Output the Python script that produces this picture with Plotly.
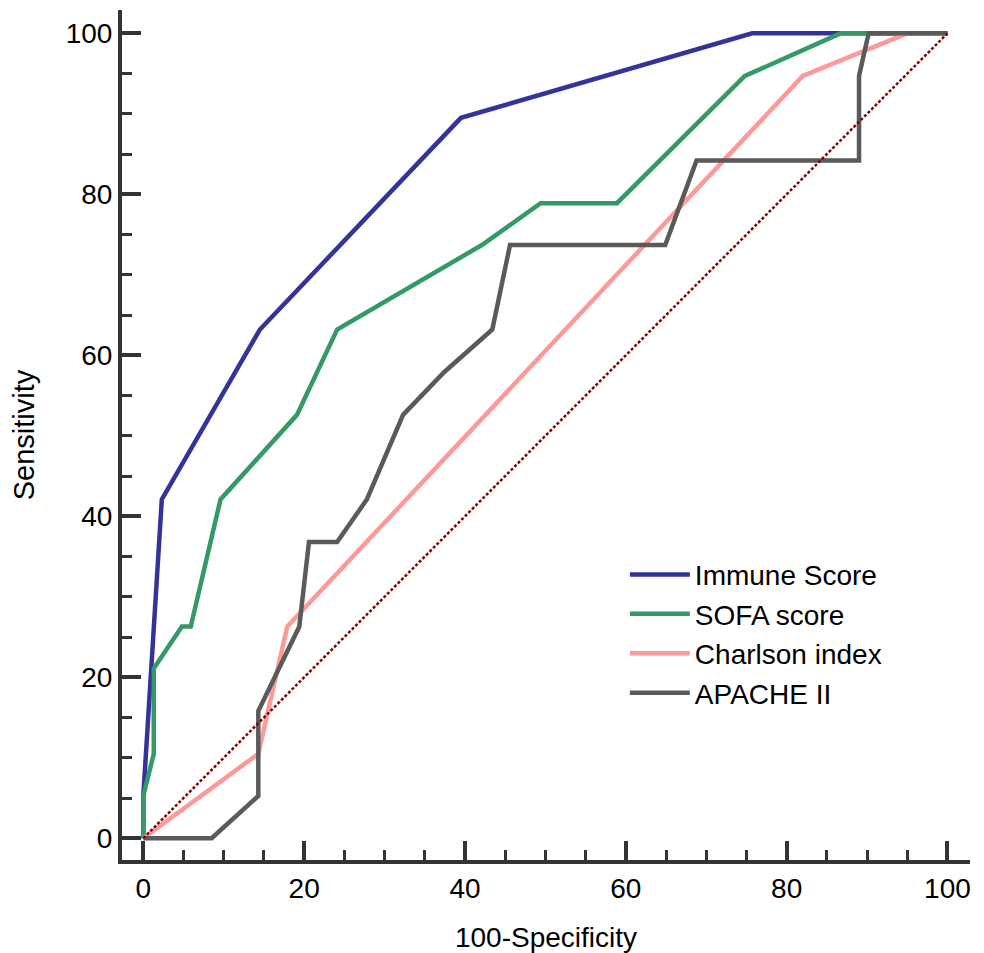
import plotly.graph_objects as go

# ROC curve data (100-Specificity, Sensitivity)
immune_x = [0, 0, 2.3, 14.5, 39.5, 75.7, 100]
immune_y = [0, 5.26, 42.1, 63.2, 89.5, 100, 100]

sofa_x = [0, 0, 1.3, 1.3, 4.8, 5.9, 9.6, 19.1, 24.1, 42.1, 49.4, 58.9, 74.8, 86.7, 100]
sofa_y = [0, 5.26, 10.5, 21.1, 26.3, 26.3, 42.1, 52.6, 63.2, 73.7, 78.9, 78.9, 94.7, 100, 100]

charlson_x = [0, 14.3, 17.9, 82.0, 95.0, 100]
charlson_y = [0, 10.5, 26.3, 94.7, 100, 100]

apache_x = [0, 8.5, 14.3, 14.3, 19.4, 20.6, 24.1, 27.8, 32.3, 37.4, 43.4, 45.6, 64.9, 68.8, 89.0, 89.0, 90.2, 100]
apache_y = [0, 0, 5.26, 15.8, 26.3, 36.8, 36.8, 42.1, 52.6, 57.9, 63.2, 73.7, 73.7, 84.2, 84.2, 94.7, 100, 100]

diag_x = [0, 100]
diag_y = [0, 100]

names = ["Immune Score", "SOFA score", "Charlson index", "APACHE II"]
colors = ["#333399", "#339966", "#FF9999", "#5A5A5A"]

FONT = "Liberation Sans, Arial"

fig = go.Figure()
series = [(immune_x, immune_y), (sofa_x, sofa_y), (charlson_x, charlson_y), (apache_x, apache_y)]
for (xs, ys), name, col in zip(series, names, colors):
    fig.add_trace(go.Scatter(x=xs, y=ys, mode="lines", name=name,
                             line=dict(color=col, width=4.5)))
fig.add_trace(go.Scatter(x=diag_x, y=diag_y, mode="lines", showlegend=False,
                         line=dict(color="#8B0000", width=2.5, dash="3px,2px")))

axis_common = dict(
    showline=True, linecolor="#333333", linewidth=4, mirror=False,
    showgrid=False, zeroline=False, automargin=False,
    ticks="inside", ticklen=19, tickwidth=4, tickcolor="#333333",
    tick0=0, dtick=20,
    minor=dict(ticks="inside", ticklen=10, tickwidth=2.5, tickcolor="#333333", dtick=5, tick0=0, showgrid=False),
    tickfont=dict(family=FONT, size=28, color="#000000"),
)

fig.update_layout(
    width=984, height=953,
    margin=dict(l=114, r=22, t=2, b=101),
    paper_bgcolor="white", plot_bgcolor="white",
    xaxis=dict(range=[-2.65, 102.8], title=dict(text="100-Specificity", font=dict(family=FONT, size=28, color="#000000"), standoff=26), **axis_common),
    yaxis=dict(range=[-2.7, 102.9], title=dict(text="Sensitivity", font=dict(family=FONT, size=29, color="#000000"), standoff=24), **axis_common),
    legend=dict(x=0.593, y=0.365, xanchor="left", yanchor="top",
                font=dict(family=FONT, size=28, color="#000000"),
                bgcolor="rgba(0,0,0,0)", itemwidth=60),
    showlegend=True,
)

fig.write_html("out.html")
